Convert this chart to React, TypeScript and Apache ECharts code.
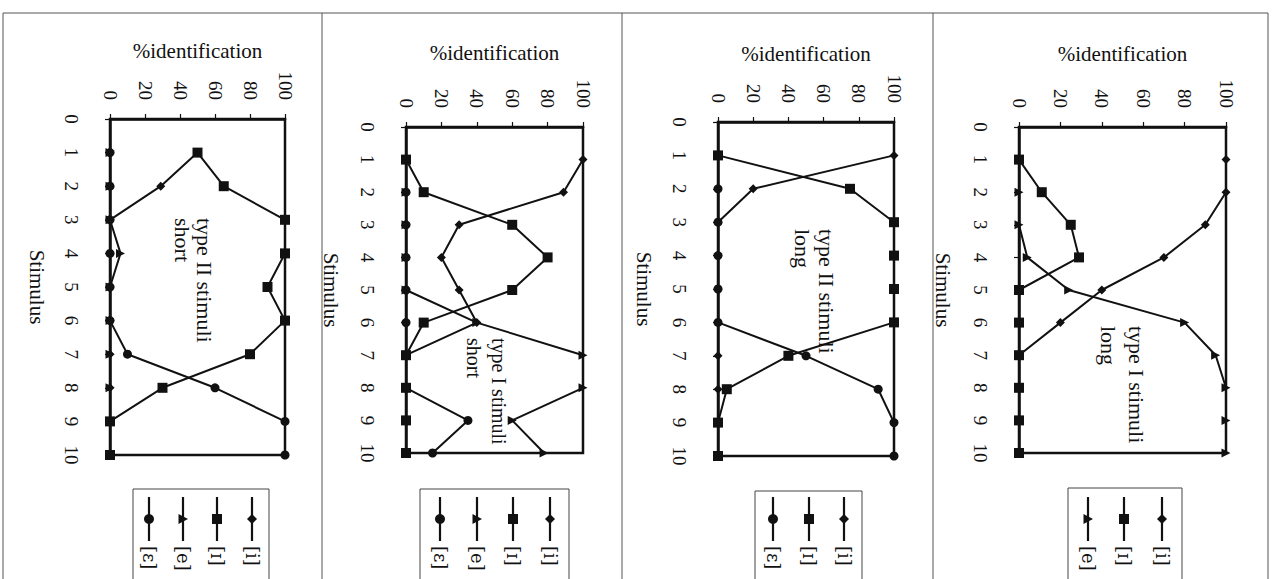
import React, { useEffect, useRef } from "react";
import * as echarts from "echarts";

// ---------- data ----------
const stimuli = [1, 2, 3, 4, 5, 6, 7, 8, 9, 10];

// panel 1: type II stimuli, short
const p1_i = [50, 29, 0, 0, 0, 0, 0, 0, 0, 0];
const p1_I = [50, 65, 100, 100, 90, 100, 80, 30, 0, 0];
const p1_e = [0, 0, 0, 6, 0, 0, 0, 0, 0, 0];
const p1_E = [0, 0, 0, 0, 0, 0, 10, 60, 100, 100];

// panel 2: type I stimuli, short
const p2_i = [100, 89, 30, 20, 30, 40, 0, 0, 0, 0];
const p2_I = [0, 10, 60, 80, 60, 10, 0, 0, 0, 0];
const p2_e = [0, 0, 0, 0, 0, 40, 100, 100, 60, 78];
const p2_E = [0, 0, 0, 0, 0, 0, 0, 0, 35, 15];

// panel 3: type II stimuli, long
const p3_i = [100, 20, 0, 0, 0, 0, 0, 0, 0, 0];
const p3_I = [0, 75, 100, 100, 100, 100, 40, 5, 0, 0];
const p3_E = [0, 0, 0, 0, 0, 0, 50, 91, 100, 100];

// panel 4: type I stimuli, long
const p4_i = [100, 100, 90, 70, 40, 20, 0, 0, 0, 0];
const p4_I = [0, 11, 25, 29, 0, 0, 0, 0, 0, 0];
const p4_e = [0, 0, 0, 4, 24, 80, 95, 100, 100, 100];

const valueAxisName = "%identification";
const stimAxisName = "Stimulus";

const seriesMeta: Record<string, { name: string; symbol: string; size: number; rotate?: number }> = {
  i: { name: "[i]", symbol: "diamond", size: 9 },
  I: { name: "[ɪ]", symbol: "rect", size: 10 },
  e: { name: "[e]", symbol: "triangle", size: 9, rotate: -90 },
  E: { name: "[ɛ]", symbol: "circle", size: 9 },
};

const panels = [
  {
    grid: { left: 110, top: 119, width: 175, height: 336 },
    titleGap: 58, nameGap: 63,
    note: ["type II stimuli", "short"], noteX: [204, 182], noteY: 218, noteSize: 22,
    box: { x: 133, y: 489, w: 136 }, legendX: [252, 217, 183, 149],
    series: [["i", p1_i], ["I", p1_I], ["e", p1_e], ["E", p1_E]],
  },
  {
    grid: { left: 406, top: 127, width: 177, height: 326 },
    titleGap: 64, nameGap: 65,
    note: ["type I stimuli", "short"], noteX: [499, 474], noteY: 338, noteSize: 20,
    box: { x: 420, y: 489, w: 149 }, legendX: [550, 513, 477, 440],
    series: [["i", p2_i], ["I", p2_I], ["e", p2_e], ["E", p2_E]],
  },
  {
    grid: { left: 718, top: 122, width: 176, height: 334 },
    titleGap: 58, nameGap: 64,
    note: ["type II stimuli", "long"], noteX: [826, 802], noteY: 229, noteSize: 22,
    box: { x: 755, y: 491, w: 107 }, legendX: [844, 809, 773],
    series: [["i", p3_i], ["I", p3_I], ["E", p3_E]],
  },
  {
    grid: { left: 1019, top: 127, width: 207, height: 326 },
    titleGap: 63, nameGap: 66,
    note: ["type I stimuli", "long"], noteX: [1136, 1108], noteY: 326, noteSize: 22,
    box: { x: 1068, y: 488, w: 114 }, legendX: [1162, 1124, 1088],
    series: [["i", p4_i], ["I", p4_I], ["e", p4_e]],
  },
];

const INK = "#111";
const SERIF = "'Liberation Serif', 'Times New Roman', serif";

function legendMarker(key: string, x: number, y: number): any {
  if (key === "i")
    return { type: "polygon", shape: { points: [[x, y - 5], [x + 5, y], [x, y + 5], [x - 5, y]] }, style: { fill: INK } };
  if (key === "I")
    return { type: "rect", shape: { x: x - 5, y: y - 5, width: 10, height: 10 }, style: { fill: INK } };
  if (key === "e")
    return { type: "polygon", shape: { points: [[x - 4.5, y - 5], [x + 5, y], [x - 4.5, y + 5]] }, style: { fill: INK } };
  return { type: "circle", shape: { cx: x, cy: y, r: 5 }, style: { fill: INK } };
}

function buildOption(): any {
  const grid: any[] = [];
  const xAxis: any[] = [];
  const yAxis: any[] = [];
  const series: any[] = [];
  const graphic: any[] = [];

  // panel frames
  graphic.push({ type: "line", shape: { x1: 3, y1: 13, x2: 1268, y2: 13 }, style: { stroke: "#555", lineWidth: 1 } });
  [3, 322, 622, 933, 1268].forEach((x) =>
    graphic.push({ type: "line", shape: { x1: x, y1: 13, x2: x, y2: 579 }, style: { stroke: "#555", lineWidth: 1 } })
  );

  panels.forEach((p, k) => {
    grid.push({ ...p.grid, show: true, borderColor: INK, borderWidth: 2.5, backgroundColor: "transparent" });
    xAxis.push({
      gridIndex: k, type: "value", position: "top", min: 0, max: 100, interval: 20,
      name: valueAxisName, nameLocation: "middle", nameGap: p.titleGap,
      nameTextStyle: { fontFamily: SERIF, fontSize: 21, color: INK },
      axisLine: { show: true, lineStyle: { color: INK, width: 2.5 } },
      axisTick: { show: true, length: 5, lineStyle: { color: INK, width: 1.2 } },
      axisLabel: { rotate: -90, margin: 19, fontFamily: SERIF, fontSize: 19, color: INK },
      splitLine: { show: false },
    });
    yAxis.push({
      gridIndex: k, type: "value", position: "left", inverse: true, min: 0, max: 10, interval: 1,
      name: stimAxisName, nameLocation: "middle", nameGap: p.nameGap, nameRotate: -90,
      nameTextStyle: { fontFamily: SERIF, fontSize: 21, color: INK },
      axisLine: { show: true, onZero: false, lineStyle: { color: INK, width: 2.5 } },
      axisTick: { show: true, length: 5, lineStyle: { color: INK, width: 1.2 } },
      axisLabel: { rotate: -90, margin: 29, fontFamily: SERIF, fontSize: 19, color: INK },
      splitLine: { show: false },
    });
    p.series.forEach(([key, vals]: any) => {
      const m = seriesMeta[key];
      series.push({
        type: "line", name: m.name, xAxisIndex: k, yAxisIndex: k, clip: false,
        data: stimuli.map((s, j) => [vals[j], s]),
        symbol: m.symbol, symbolSize: m.size, symbolRotate: m.rotate || 0, showAllSymbol: true,
        lineStyle: { color: INK, width: 2 }, itemStyle: { color: INK },
        z: 3,
      });
    });

    // annotation
    p.note.forEach((t, li) =>
      graphic.push({
        type: "text", x: p.noteX[li], y: p.noteY, rotation: -Math.PI / 2,
        style: { text: t, fontFamily: SERIF, fontSize: p.noteSize, fill: INK, textAlign: "left", textVerticalAlign: "middle" },
      })
    );

    // legend box
    graphic.push({
      type: "rect", shape: { x: p.box.x, y: p.box.y, width: p.box.w, height: 120 },
      style: { fill: "none", stroke: "#444", lineWidth: 1 },
    });
    p.series.forEach(([key]: any, li) => {
      const x = p.legendX[li];
      graphic.push({ type: "line", shape: { x1: x, y1: 497, x2: x, y2: 541 }, style: { stroke: INK, lineWidth: 2.2 } });
      graphic.push(legendMarker(key, x, 519));
      graphic.push({
        type: "text", x, y: 546, rotation: -Math.PI / 2,
        style: { text: seriesMeta[key].name, fontFamily: "'DejaVu Serif', serif", fontSize: 18, fill: INK, textAlign: "left", textVerticalAlign: "middle" },
      });
    });
  });

  return { animation: false, backgroundColor: "#fff", grid, xAxis, yAxis, series, graphic };
}

export default function App() {
  const ref = useRef<HTMLDivElement>(null);
  useEffect(() => {
    if (!ref.current) return;
    const chart = echarts.init(ref.current, null, { renderer: "svg" });
    chart.setOption(buildOption());
    return () => chart.dispose();
  }, []);
  return (
    <div
      ref={ref}
      style={{ position: "fixed", left: 0, top: 0, width: 1280, height: 579, background: "#fff" }}
    />
  );
}
